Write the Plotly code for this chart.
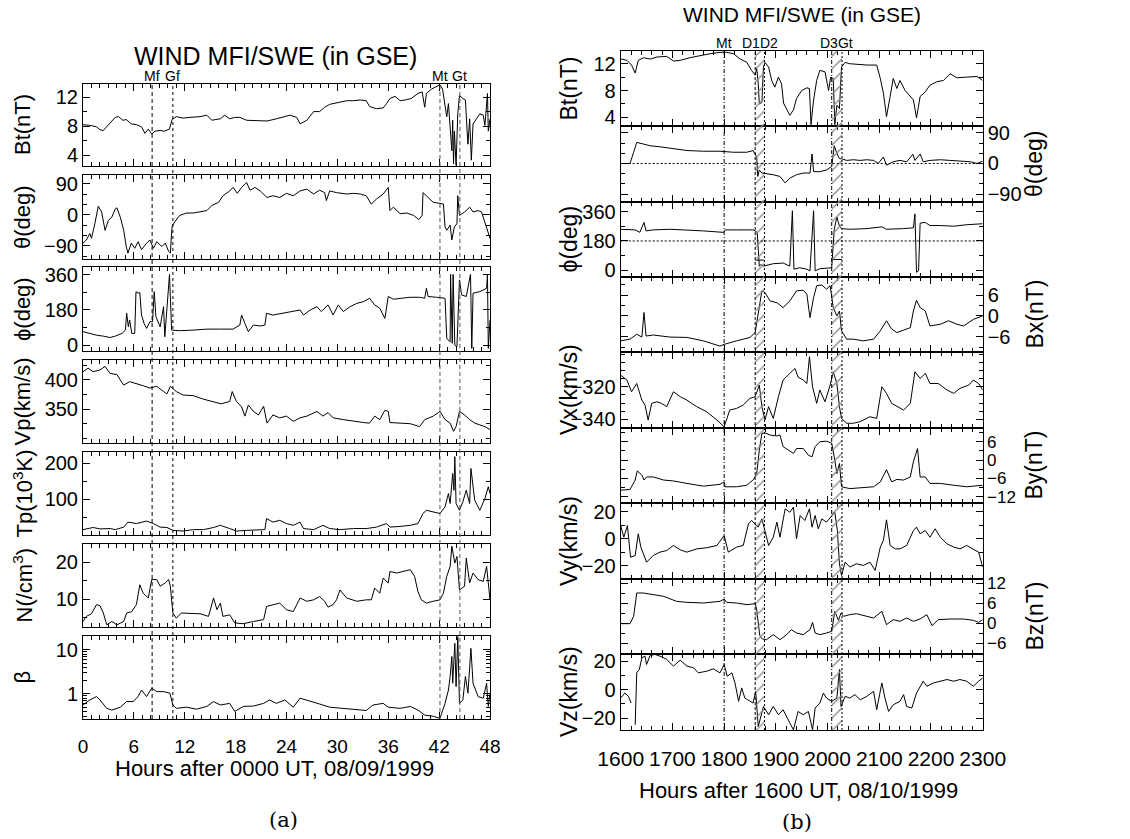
import plotly.graph_objects as go

W, H = 1130, 839

# ---------------- panel (a): hours after 0000 UT, 08/09/1999 ----------------
a_bt_t = [0, 0.2, 0.8, 1.6, 2.0, 2.4, 2.8, 3.4, 3.8, 4.2, 4.7, 5.1, 5.7, 6.3, 6.9, 7.3, 7.7, 8.1, 8.5, 9.1,
          9.6, 10.2, 10.5, 11.0, 11.8, 12.6, 13.8, 14.6, 15.2, 15.6, 16.2, 16.7, 17.3, 17.9, 18.5, 19.3, 20.5, 21.7, 22.8, 23.6,
          24.4, 25.2, 25.6, 26.4, 27.2, 27.9, 28.5, 29.1, 29.9, 31.1, 31.9, 32.7, 33.4, 33.8, 34.6, 35.4, 35.8, 36.2, 36.8, 37.4,
          38.0, 38.7, 39.5, 40.0, 40.3, 40.5, 41.1, 41.7, 42.1, 42.4, 42.7, 42.9, 43.1, 43.3, 43.5, 43.6, 43.7, 43.8, 44.0, 44.2,
          44.4, 44.8, 45.1, 45.3, 45.4, 45.6, 45.8, 46.0, 46.4, 46.8, 47.2, 47.4, 47.7, 47.8, 48.0]
a_bt = [8.2, 8.2, 8.1, 7.9, 7.5, 7.4, 7.9, 8.8, 9.2, 9.3, 8.8, 8.9, 8.3, 8.2, 7.9, 7.0, 7.6, 6.9, 7.3, 7.4,
        7.3, 7.6, 8.9, 9.3, 9.1, 9.2, 9.3, 9.5, 8.8, 8.9, 9.0, 9.5, 9.0, 9.2, 9.2, 8.8, 8.7, 8.7, 9.0, 9.2,
        9.5, 9.2, 8.3, 8.8, 10.0, 10.0, 10.6, 11.0, 11.2, 11.5, 11.5, 11.6, 11.5, 10.7, 10.4, 10.5, 11.1, 11.8, 12.1, 11.5,
        11.6, 11.8, 12.5, 12.7, 10.6, 12.5, 13.1, 13.5, 13.7, 13.1, 10.6, 9.3, 11.1, 7.3, 4.6, 8.8, 2.8, 7.3, 2.6, 9.7,
        12.2, 11.8, 11.6, 7.3, 5.5, 9.0, 3.3, 8.3, 9.0, 9.7, 9.5, 8.1, 12.5, 7.3, 9.0]

a_th_t = [0, 0.4, 0.8, 1.0, 1.4, 1.8, 2.2, 2.6, 3.0, 3.4, 3.8, 4.0, 4.4, 4.8, 5.1, 5.3, 5.7, 6.1, 6.5, 6.9,
          7.5, 7.9, 8.3, 8.7, 9.3, 9.7, 10.1, 10.3, 10.5, 10.8, 11.4, 12.2, 13.0, 13.8, 14.6, 15.2, 16.0, 16.5, 17.3, 17.7,
          18.2, 18.7, 19.3, 19.7, 20.3, 20.9, 21.7, 22.4, 23.2, 24.0, 24.8, 25.6, 26.4, 27.2, 27.9, 28.5, 28.7, 29.1, 29.9, 31.1,
          31.9, 32.7, 33.4, 34.0, 34.6, 35.4, 36.0, 36.2, 36.6, 37.4, 38.2, 39.0, 39.6, 40.0, 40.1, 40.7, 41.3, 42.1, 42.5, 42.7,
          42.9, 43.3, 43.5, 43.8, 44.1, 44.2, 44.4, 45.0, 45.6, 46.0, 46.6, 47.0, 47.4, 48.0]
a_th = [-82, -73, -54, -68, -26, 25, 8, -45, -16, -7, 17, 20, -7, -45, -92, -111, -82, -97, -78, -101,
        -82, -73, -97, -78, -92, -82, -106, -111, -35, -21, -2, 5, 5, 8, 12, 27, 36, 55, 69, 79,
        62, 79, 93, 71, 79, 69, 50, 55, 50, 62, 55, 69, 74, 60, 71, 64, 41, 69, 64, 60,
        62, 60, 55, 31, 45, 60, 79, 12, 22, 3, 5, -2, -14, -2, 64, 50, 36, 33, 31, -35,
        -45, -30, -73, -35, -26, 55, -2, 8, 22, 8, 12, 8, -21, -68]

a_ph_t = [0.0, 0.8, 1.6, 2.4, 3.2, 3.8, 4.6, 5.0, 5.15, 5.35, 5.5, 5.75, 6.1, 6.25, 6.5, 6.7, 6.9, 7.2, 7.5, 7.9,
          8.2, 8.4, 8.6, 9.1, 9.5, 9.65, 9.85, 10.2, 10.45, 11.4, 13.0, 14.6, 16.2, 17.7, 18.5, 18.7, 19.1, 19.5, 20.1, 20.9,
          21.45, 21.65, 22.4, 23.6, 24.8, 25.6, 26.0, 26.8, 27.6, 28.1, 28.9, 29.5, 30.1, 30.7, 31.5, 32.3, 33.1, 33.8, 34.4, 35.0,
          35.6, 36.0, 36.6, 37.4, 38.55, 39.7, 40.3, 40.5, 40.7, 41.7, 42.7, 42.9, 43.3, 43.35, 43.55, 43.65, 43.85, 44.1, 44.4, 44.65,
          45.2, 45.7, 45.85, 46.0, 46.8, 47.6, 47.7, 47.8, 48.0]
a_ph = [69, 60, 51, 46, 39, 46, 60, 77, 163, 94, 129, 60, 60, 274, 266, 269, 154, 111, 86, 120,
        120, 274, 146, 94, 197, 43, 180, 362, 77, 74, 77, 82, 82, 82, 103, 154, 111, 69, 103, 98,
        103, 163, 154, 163, 172, 180, 154, 180, 197, 172, 206, 154, 206, 172, 197, 214, 223, 240, 206, 189,
        137, 249, 235, 240, 245, 245, 240, 291, 249, 245, 240, 34, 17, 362, 9, 362, 0, -9, 334, 257,
        249, 362, -17, 266, 274, 291, 362, -17, 129]

a_vp_t = [0.0, 0.6, 1.2, 2.0, 2.6, 3.2, 4.0, 4.8, 5.5, 6.3, 7.1, 7.9, 8.7, 9.5, 9.9, 10.3, 11.0, 11.8, 13.0, 14.2,
          15.4, 16.3, 17.3, 17.6, 18.1, 18.7, 19.1, 19.5, 20.1, 20.7, 21.3, 21.7, 22.4, 23.2, 24.0, 24.8, 25.6, 26.4, 27.6, 28.3,
          28.9, 29.5, 30.7, 31.9, 33.1, 33.8, 34.4, 35.0, 35.6, 36.0, 36.2, 37.4, 38.6, 39.7, 40.3, 41.3, 42.1, 42.7, 43.3, 43.7,
          44.0, 44.4, 45.0, 45.6, 46.2, 46.8, 47.4, 48.0]
a_vp = [414, 420, 414, 417, 423, 411, 409, 391, 397, 394, 390, 386, 389, 380, 376, 389, 380, 374, 373, 367,
        363, 359, 363, 380, 363, 354, 338, 357, 346, 340, 355, 326, 340, 335, 338, 329, 335, 338, 346, 338,
        344, 335, 332, 329, 327, 326, 338, 332, 348, 346, 327, 326, 325, 320, 332, 338, 346, 332, 326, 312,
        320, 346, 340, 332, 326, 323, 320, 315]

a_tp_t = [0.0, 1.2, 2.0, 3.2, 3.8, 4.8, 5.3, 6.3, 7.5, 8.3, 9.1, 9.9, 10.6, 11.8, 13.0, 14.2, 15.4, 16.2, 17.3, 18.1,
          19.3, 20.5, 21.45, 21.65, 22.4, 23.2, 24.0, 24.8, 25.6, 26.0, 27.2, 28.3, 29.1, 30.3, 31.9, 33.4, 34.6, 35.8, 36.2, 37.4,
          38.6, 39.5, 40.1, 40.5, 41.3, 42.1, 42.7, 43.1, 43.3, 43.6, 43.75, 43.85, 44.0, 44.4, 44.8, 45.2, 45.6, 45.75, 46.2, 46.8,
          47.4, 47.8, 48.0]
a_tp = [15, 21, 17, 18, 15, 22, 36, 32, 39, 32, 22, 21, 13, 11, 15, 15, 21, 27, 18, 11,
        13, 15, 15, 46, 36, 41, 32, 27, 36, 18, 15, 27, 18, 15, 18, 18, 22, 32, 22, 24,
        27, 32, 60, 69, 64, 60, 79, 116, 88, 172, 125, 219, 88, 69, 93, 125, 88, 186, 97, 69,
        102, 135, 116]

a_n_t = [0.0, 0.4, 1.0, 1.6, 2.0, 2.4, 2.8, 3.4, 4.0, 4.8, 5.15, 5.75, 6.3, 6.7, 7.1, 7.7, 8.1, 8.7, 9.1, 9.7,
         10.1, 10.3, 10.6, 11.0, 11.6, 12.6, 13.8, 14.8, 15.4, 15.8, 16.2, 16.5, 17.3, 17.9, 18.9, 20.1, 21.3, 21.65, 22.4, 23.2,
         24.0, 24.8, 25.6, 26.4, 27.2, 27.9, 28.5, 28.9, 29.5, 29.9, 30.3, 31.1, 32.3, 33.4, 34.0, 34.4, 35.0, 35.4, 36.0, 36.2,
         37.0, 37.8, 38.6, 39.1, 39.5, 39.9, 40.5, 41.3, 42.1, 42.5, 42.9, 43.3, 43.5, 43.85, 44.1, 44.4, 45.0, 45.2, 45.6, 46.0,
         46.6, 47.2, 47.6, 48.0]
a_n = [3.9, 5.3, 6.0, 8.5, 8.2, 6.2, 3.0, 3.9, 3.0, 3.9, 6.2, 6.6, 8.5, 13.9, 11.6, 10.3, 15.3, 15.3, 13.5, 14.4,
       15.3, 13.5, 6.2, 4.8, 6.2, 6.2, 6.0, 5.3, 10.3, 7.1, 8.9, 5.3, 5.7, 3.5, 3.3, 3.9, 4.4, 8.0, 8.5, 8.9,
       7.1, 6.6, 10.3, 9.4, 9.8, 10.7, 9.4, 7.8, 8.5, 9.8, 12.5, 10.3, 9.4, 9.8, 9.8, 13.0, 11.6, 15.7, 14.4, 17.5,
       17.1, 17.5, 18.0, 16.2, 12.1, 9.8, 8.9, 9.4, 9.8, 11.6, 16.2, 18.9, 24.4, 19.8, 21.6, 12.5, 13.5, 21.2, 14.4, 17.1,
       15.3, 14.8, 18.9, 9.8]

a_beta_t = [0.0, 0.8, 1.6, 2.0, 2.8, 3.4, 4.4, 5.15, 5.9, 6.5, 6.9, 7.5, 8.1, 8.7, 9.5, 10.25, 10.6, 11.0, 12.2, 13.4,
            14.6, 15.4, 16.2, 17.3, 17.9, 18.9, 20.1, 21.3, 22.0, 22.8, 23.8, 24.8, 25.6, 26.8, 27.9, 29.1, 30.7, 32.3, 33.4, 34.2,
            35.4, 36.0, 37.4, 38.6, 39.5, 40.3, 41.3, 42.1, 42.7, 43.1, 43.3, 43.5, 43.6, 43.85, 44.0, 44.2, 44.4, 44.8, 45.1, 45.4,
            45.75, 46.0, 46.6, 47.2, 47.6, 47.8, 48.0]
a_beta = [0.56, 0.73, 0.87, 0.73, 0.47, 0.43, 0.50, 0.67, 0.67, 0.87, 1.23, 0.87, 1.35, 1.13, 1.13, 1.04, 0.56, 0.47, 0.50, 0.45,
          0.52, 0.67, 0.56, 0.61, 0.40, 0.52, 0.53, 0.61, 0.73, 0.61, 0.73, 0.50, 0.80, 0.67, 0.59, 0.50, 0.47, 0.43, 0.42, 0.56,
          0.61, 0.50, 0.47, 0.52, 0.43, 0.33, 0.31, 0.28, 0.61, 1.23, 2.5, 7.1, 1.75, 14.2, 1.47, 20, 0.61, 0.73, 2.5, 1.04,
          10.9, 1.75, 0.87, 0.80, 1.75, 0.52, 1.04]

a_event_names = ["Mf", "Gf", "Mt", "Gt"]
a_event_t = [8.15, 10.6, 42.1, 44.45]
a_xticks = [0, 6, 12, 18, 24, 30, 36, 42, 48]

# ---------------- panel (b): time 1600-2300 UT, 08/10/1999 ----------------
b_bt_t = [1600, 1602, 1612, 1621, 1628, 1634, 1644, 1657, 1670, 1689, 1702, 1715, 1734, 1753, 1773, 1792, 1805, 1818, 1831, 1844,
          1853, 1860, 1863, 1866, 1868, 1873, 1876, 1879, 1886, 1892, 1898, 1905, 1911, 1915, 1921, 1927, 1934, 1940, 1950, 1960,
          1965, 1968, 1973, 1979, 1985, 1995, 2002, 2006, 2011, 2014, 2018, 2023, 2027, 2034, 2043, 2056, 2076, 2095, 2102, 2108,
          2114, 2121, 2127, 2134, 2140, 2150, 2160, 2166, 2172, 2179, 2189, 2198, 2211, 2224, 2237, 2250, 2269, 2289, 2300]
b_bt = [12.6, 12.7, 12.5, 11.8, 10.6, 12.5, 12.9, 12.7, 13.0, 13.1, 12.4, 12.5, 12.9, 13.2, 13.5, 13.7, 13.7, 13.5, 12.7, 12.2,
        11.0, 10.3, 11.3, 9.0, 6.0, 6.2, 11.5, 12.2, 11.5, 9.5, 8.5, 10.0, 9.0, 6.1, 5.1, 4.3, 5.1, 6.8, 8.0, 8.4,
        8.3, 2.9, 6.6, 9.5, 11.0, 10.8, 8.0, 10.0, 9.8, 2.9, 5.8, 5.3, 11.5, 12.2, 12.0, 11.9, 11.8, 11.8, 9.8, 7.6,
        4.1, 7.1, 9.8, 8.3, 9.5, 8.0, 7.1, 6.6, 3.9, 7.1, 7.8, 8.8, 9.3, 9.5, 10.5, 9.9, 10.0, 10.1, 9.5]

b_th_t = [1600, 1618, 1625, 1631, 1644, 1657, 1676, 1702, 1728, 1760, 1792, 1818, 1844, 1856, 1863, 1865, 1868, 1873, 1882, 1895,
          1908, 1918, 1927, 1940, 1953, 1966, 1970, 1973, 1985, 1998, 2008, 2013, 2018, 2023, 2027, 2037, 2050, 2063, 2076, 2089,
          2098, 2108, 2114, 2127, 2140, 2153, 2165, 2169, 2179, 2185, 2198, 2218, 2237, 2256, 2276, 2289, 2300]
b_th = [0, 0, 33, 62, 57, 52, 49, 43, 38, 36, 36, 33, 33, 38, 19, -38, -19, -28, -30, -33,
        -38, -57, -43, -33, -28, -28, 28, -24, -24, -19, -9, 52, 30, 14, 14, 9, 11, 9, 11, 9,
        0, 19, -5, 5, 9, 5, 27, 9, 28, 5, 9, 11, 9, 8, 5, 0, 7]

b_ph_t = [1600, 1628, 1637, 1645, 1649, 1663, 1695, 1728, 1760, 1799, 1802, 1824, 1857, 1864, 1868, 1871, 1876, 1895, 1914, 1927,
          1932, 1935, 1946, 1960, 1966, 1973, 1976, 1985, 1998, 2008, 2013, 2018, 2023, 2027, 2043, 2076, 2105, 2114, 2147, 2166,
          2169, 2172, 2176, 2179, 2189, 2198, 2218, 2244, 2269, 2300]
b_ph = [252, 248, 233, 294, 242, 248, 252, 248, 242, 233, 248, 248, 248, 233, 25, 34, 25, 40, 44, 25,
        366, 6, 15, 6, -4, 366, -4, 9, 15, 15, 252, 328, 271, 256, 252, 256, 267, 252, 256, 261,
        347, -13, -4, 290, 294, 275, 275, 271, 280, 286]
# short level marks of phi drawn across the two shaded intervals
b_ph_interval_level = [62, 66]

b_bx_t = [1600, 1618, 1631, 1641, 1645, 1649, 1663, 1695, 1728, 1760, 1792, 1800, 1824, 1850, 1860, 1866, 1873, 1879, 1889, 1902,
          1914, 1927, 1940, 1953, 1960, 1966, 1973, 1979, 1989, 1998, 2005, 2011, 2018, 2023, 2027, 2037, 2050, 2069, 2089, 2102,
          2114, 2124, 2134, 2147, 2160, 2166, 2172, 2179, 2189, 2198, 2218, 2234, 2250, 2263, 2282, 2300]
b_bx = [-7.2, -6.7, -5.3, -6.1, 1.0, -5.8, -5.5, -6.1, -6.2, -7.2, -8.7, -8.2, -7.2, -6.2, -4.8, 1.4, 7.2, 6.7, 4.3, 3.8,
        2.4, 4.3, 7.2, 7.4, 6.2, -0.5, 5.3, 8.7, 8.9, 7.7, 8.7, 2.4, 0, 1.4, -4.3, -6.7, -6.7, -7.2, -6.7, -4.3,
        -1.4, -3.8, -4.8, -4.1, -3.4, 1.4, 4.5, 2.4, 1.4, -2.9, -2.4, -1.4, -2.4, -2.9, -1.0, 0]

b_vx_t = [1600, 1612, 1621, 1631, 1641, 1647, 1653, 1660, 1670, 1679, 1689, 1702, 1715, 1728, 1747, 1766, 1786, 1800, 1811, 1824,
          1837, 1850, 1860, 1868, 1873, 1879, 1886, 1895, 1905, 1914, 1927, 1937, 1943, 1953, 1960, 1965, 1971, 1979, 1985, 1995,
          2005, 2011, 2018, 2023, 2027, 2037, 2050, 2063, 2082, 2095, 2105, 2114, 2124, 2134, 2147, 2160, 2169, 2179, 2189, 2198,
          2214, 2231, 2244, 2256, 2273, 2282, 2292, 2300]
b_vx = [-312.9, -315.9, -323.1, -318, -328.2, -331.2, -340.4, -330.2, -329.2, -330.2, -332.2, -323.1, -326.1, -328.2, -332.2, -335.3, -340.4, -344.5, -334.3, -333.3,
        -331.2, -327.1, -326.1, -319, -332.2, -340.4, -332.2, -339.4, -326.1, -315.9, -311.8, -308.8, -314.1, -315.9, -318, -301.6, -320, -330.2, -322, -329.2,
        -319, -310.8, -318, -332.2, -339.4, -342.4, -342.4, -341.4, -338.4, -339.4, -320, -324.1, -330.2, -332.2, -334.3, -330.2, -310.8, -314.9, -311.8, -318,
        -318, -322, -324.1, -321, -319, -315.9, -318, -322]

b_by_t = [1600, 1618, 1628, 1632, 1641, 1645, 1650, 1663, 1683, 1702, 1728, 1760, 1792, 1800, 1802, 1824, 1844, 1857, 1863, 1868,
          1873, 1879, 1889, 1902, 1908, 1914, 1924, 1934, 1940, 1953, 1963, 1970, 1976, 1985, 1998, 2008, 2013, 2018, 2023, 2027,
          2043, 2069, 2089, 2102, 2114, 2124, 2134, 2147, 2160, 2166, 2174, 2179, 2189, 2198, 2218, 2244, 2269, 2300]
b_by = [-9.8, -9.6, -6.5, -3.5, -4.9, -6.5, -5.5, -5.5, -6.5, -6.8, -7.6, -8.5, -7.9, -7.1, -8.7, -8.7, -8.2, -6.3, -4.4, 3.3,
        8.7, 8.9, 8.2, 7.9, 8.2, 4.4, 3.3, 2.2, 3.8, 3.8, 1.6, 1.1, 4.4, 6.0, 6.2, 5.5, 1.1, -4.4, -1.1, -8.7,
        -9.3, -8.9, -8.7, -7.1, -3.1, -7.1, -6.3, -6.5, -5.5, -0.5, 3.8, -5.5, -5.5, -7.6, -7.6, -8.2, -8.7, -8.2]

b_vy_t = [1600, 1606, 1613, 1619, 1628, 1634, 1639, 1650, 1663, 1676, 1689, 1702, 1715, 1728, 1747, 1766, 1786, 1800, 1808, 1824,
          1837, 1847, 1853, 1860, 1866, 1873, 1879, 1886, 1895, 1902, 1908, 1918, 1927, 1934, 1940, 1947, 1956, 1965, 1970, 1976,
          1982, 1989, 1998, 2008, 2014, 2019, 2023, 2027, 2034, 2043, 2056, 2069, 2082, 2092, 2102, 2108, 2114, 2121, 2131, 2140,
          2153, 2166, 2172, 2179, 2189, 2198, 2208, 2218, 2231, 2244, 2256, 2269, 2282, 2292, 2300]
b_vy = [9.8, 1.2, 9.8, -13.5, -12.3, 3.7, -6.1, -17.2, -12.3, -9.8, -8.6, -4.9, -8.1, -9.8, -7.4, -6.6, -4.9, 2.5, -9.8, -6.1,
        -4.9, 11.0, 13.5, 11.0, 8.6, 14.7, 6.1, -4.9, 1.2, 12.3, 1.2, 22.1, 19.6, 23.3, 0, 17.2, 13.5, 22.1, 8.6, 17.2,
        7.4, 14.7, 12.3, 17.2, 19.6, 6.1, -18.4, -27, -17.2, -20.8, -18.4, -19.6, -17.2, -23.3, -6.1, -1.2, 14.0, -4.9, -7.4, -7.4,
        -4.9, 6.1, 8.6, 3.7, 6.1, 1.2, 7.4, 1.2, -3.7, -6.1, -7.4, -4.9, -7.4, -9.8, -20.8]

b_bz_t = [1600, 1618, 1625, 1631, 1644, 1663, 1683, 1708, 1728, 1760, 1792, 1800, 1805, 1824, 1844, 1860, 1863, 1866, 1869, 1874,
          1882, 1895, 1908, 1921, 1930, 1940, 1953, 1966, 1971, 1976, 1985, 1998, 2008, 2014, 2021, 2026, 2031, 2043, 2056, 2076,
          2089, 2105, 2114, 2127, 2140, 2153, 2166, 2179, 2192, 2202, 2214, 2237, 2263, 2282, 2292, 2300]
b_bz = [-0.2, -0.2, 2, 9.0, 9.0, 8.5, 8.0, 6.5, 6.2, 6.0, 6.5, 7.2, 6.2, 6.0, 5.5, 5.8, 4, 0, -3.8, -4.8,
        -5.0, -3.5, -5.0, -3.5, -2.0, -3.0, -3.5, -2.0, 0.2, -3.0, -3.5, -3.0, -2.5, 3.5, 0.8, 3.0, 2.0, 2.5, 2.8, 2.0,
        1.5, 3.5, -0.5, 1.0, 0.5, 1.5, 0.5, 1.2, 2.5, -0.8, 1.0, 1.2, 1.2, 0.8, 0.2, 1.0]

b_vz_t = [1600, 1608, 1615, 1620, None, 1628, 1631, 1636, 1641, 1647, 1650, 1657, 1666, 1676, 1689, 1702, 1715, 1728, 1741, 1750,
          1766, 1779, 1792, 1800, 1806, 1815, 1821, 1828, 1834, 1840, 1850, 1856, 1861, 1866, 1876, 1886, 1895, 1905, 1914, 1924,
          1934, 1943, 1953, 1963, 1971, 1976, 1985, 1992, 1998, 2008, 2018, 2023, 2026, 2034, 2043, 2053, 2063, 2076, 2089, 2095,
          2105, 2111, 2118, 2127, 2140, 2147, 2153, 2163, 2172, 2185, 2192, 2205, 2218, 2231, 2244, 2256, 2269, 2282, 2292, 2300]
b_vz = [-5.9, -2.4, -4.7, -9.4, None, -24.7, 11.8, 14.1, 22.4, 23.5, 17.6, 24.0, 24.7, 23.5, 21.2, 16.5, 20.7, 16.5, 15.3, 11.8,
        12.9, 14.6, 11.8, 17.6, 9.4, 11.8, 4.7, -8.2, 1.2, -5.9, -8.2, -9.4, -1.2, -25.9, -11.8, -17.6, -11.8, -17.6, -14.1, -21.2,
        -28.2, -15.3, -17.6, -15.3, -28.2, -12.9, -9.4, -2.4, -5.9, -8.2, -5.9, 14.1, -11.8, -4.7, -5.9, -3.5, -7.1, -4.7, -1.2, -14.1,
        4.7, -5.9, -15.3, -10.6, -8.2, -3.5, -11.8, -12.9, -2.4, 5.9, 2.4, 4.7, 5.9, 7.1, 5.9, 7.1, 5.9, 2.4, 5.9, 8.2]

b_event_names = ["Mt", "D1", "D2", "D3", "Gt"]
b_event_t = [1800, 1860, 1878, 2008, 2028]
b_xticks = [1600, 1700, 1800, 1900, 2000, 2100, 2200, 2300]

# ---------------- helpers ----------------
FONT = "Liberation Sans, Arial, Helvetica, sans-serif"
SERIF = "DejaVu Serif, Liberation Serif, serif"


def fx(p):
    return p / W


def fy(p):
    return 1 - p / H


axis_common = dict(showline=True, linecolor="black", linewidth=1, mirror="allticks",
                   ticks="inside", tickcolor="black", tickwidth=1, showgrid=False,
                   zeroline=False, automargin=False,
                   tickfont=dict(family=FONT, size=20, color="black"))

fig = go.Figure()
layout = {}
annotations = []
shapes = []

# ----- panel (a) rows -----
a_rows = [
    (a_bt_t, a_bt, [2.5, 13.8], [4, 8, 12], 2, "Bt(nT)", False),
    (a_th_t, a_th, [-128, 115], [-90, 0, 90], 30, "θ(deg)", False),
    (a_ph_t, a_ph, [-30, 400], [0, 180, 360], 90, "ϕ(deg)", False),
    (a_vp_t, a_vp, [292, 434], [350, 400], 25, "Vp(km/s)", False),
    (a_tp_t, a_tp, [0, 232], [100, 200], 50, "Tp(10<sup>3</sup>K)", False),
    (a_n_t, a_n, [2.4, 25], [10, 20], 5, "N(/cm<sup>3</sup>)", False),
    (a_beta_t, a_beta, [-0.57, 1.318], [1, 10], None, "β", True),
]
a_tops = [84, 175, 267, 360, 452, 544, 636]
a_bots = [166, 259, 351, 443, 535, 627, 719]
A_X0, A_X1 = 83, 490

for i, (t, v, yr, tv, mdt, title, islog) in enumerate(a_rows):
    assert len(t) == len(v), (title, len(t), len(v))
    n = i + 1
    xs = "x" if n == 1 else f"x{n}"
    ys = "y" if n == 1 else f"y{n}"
    xk = "xaxis" if n == 1 else f"xaxis{n}"
    yk = "yaxis" if n == 1 else f"yaxis{n}"
    fig.add_trace(go.Scatter(x=t, y=v, mode="lines", line=dict(color="black", width=1),
                             xaxis=xs, yaxis=ys, showlegend=False, hoverinfo="skip"))
    layout[xk] = dict(axis_common, domain=[fx(A_X0), fx(A_X1)], range=[0, 48], anchor=ys,
                      tickmode="array", tickvals=a_xticks, ticklen=7,
                      minor=dict(ticks="inside", ticklen=4, tickmode="linear", tick0=0, dtick=1, tickcolor="black"),
                      showticklabels=(i == len(a_rows) - 1), ticklabelstandoff=10,
                      tickfont=dict(family=FONT, size=19, color="black"))
    ya = dict(axis_common, domain=[fy(a_bots[i]), fy(a_tops[i])], range=yr, anchor=xs,
              tickmode="array", tickvals=tv, ticklen=7, side="left")
    if islog:
        ya["type"] = "log"
        ya["ticktext"] = ["1", "10"]
        ya["minor"] = dict(ticks="inside", ticklen=4, tickmode="array",
                           tickvals=[0.3, 0.4, 0.5, 0.6, 0.7, 0.8, 0.9, 2, 3, 4, 5, 6, 7, 8, 9, 20], tickcolor="black")
    else:
        ya["minor"] = dict(ticks="inside", ticklen=4, tickmode="linear", tick0=0, dtick=mdt, tickcolor="black")
    layout[yk] = ya
    annotations.append(dict(text=title, x=fx(22), y=fy((a_tops[i] + a_bots[i]) / 2), xref="paper", yref="paper",
                            textangle=-90, showarrow=False, font=dict(family=FONT, size=22, color="black"),
                            xanchor="center", yanchor="middle"))

# event lines (a)
a_styles = [("black", "4px,3px"), ("black", "3px,3px"), ("#555555", "4px,3px"), ("#555555", "4px,3px")]
for name, tt, (col, dash) in zip(a_event_names, a_event_t, a_styles):
    shapes.append(dict(type="line", xref="x", yref="paper", x0=tt, x1=tt, y0=fy(a_bots[-1]), y1=fy(a_tops[0]),
                       line=dict(color=col, width=1, dash=dash), layer="above"))
    annotations.append(dict(text=name, x=tt, y=fy(76), xref="x", yref="paper", showarrow=False,
                            font=dict(family=FONT, size=14, color="black"), xanchor="center", yanchor="middle"))

# ----- panel (b) rows -----
b_rows = [
    (b_bt_t, b_bt, [2.7, 13.9], [4, 8, 12], 2, "Bt(nT)", "left"),
    (b_th_t, b_th, [-113, 110], [-90, 0, 90], 30, "θ(deg)", "right"),
    (b_ph_t, b_ph, [-42, 420], [0, 180, 360], 90, "ϕ(deg)", "left"),
    (b_bx_t, b_bx, [-10.4, 11.2], [-6, 0, 6], 3, "Bx(nT)", "right"),
    (b_vx_t, b_vx, [-345.3, -298.7], [-340, -320], 5, "Vx(km/s)", "left"),
    (b_by_t, b_by, [-14, 10.5], [-12, -6, 0, 6], 3, "By(nT)", "right"),
    (b_vy_t, b_vy, [-29.6, 26.4], [-20, 0, 20], 10, "Vy(km/s)", "left"),
    (b_bz_t, b_bz, [-9.3, 13.2], [-6, 0, 6, 12], 3, "Bz(nT)", "right"),
    (b_vz_t, b_vz, [-28.3, 25], [-20, 0, 20], 10, "Vz(km/s)", "left"),
]
b_edges = [51, 126, 202, 277, 352, 428, 503, 579, 654, 730]
B_X0, B_X1 = 620.7, 982.7
off = len(a_rows)

for i, (t, v, yr, tv, mdt, title, side) in enumerate(b_rows):
    assert len(t) == len(v), (title, len(t), len(v))
    n = off + i + 1
    xs, ys = f"x{n}", f"y{n}"
    fig.add_trace(go.Scatter(x=t, y=v, mode="lines", line=dict(color="black", width=1),
                             xaxis=xs, yaxis=ys, showlegend=False, hoverinfo="skip", connectgaps=False))
    layout[f"xaxis{n}"] = dict(axis_common, domain=[fx(B_X0), fx(B_X1)], range=[1600, 2300], anchor=ys,
                               tickmode="array", tickvals=b_xticks, ticklen=7,
                               minor=dict(ticks="inside", ticklen=4, tickmode="linear", tick0=1600, dtick=20, tickcolor="black"),
                               showticklabels=(i == len(b_rows) - 1), ticklabelstandoff=10,
                               tickfont=dict(family=FONT, size=21, color="black"))
    tf = dict(family=FONT, size=17 if side == "right" and len(tv) > 3 else 20, color="black")
    layout[f"yaxis{n}"] = dict(axis_common, domain=[fy(b_edges[i + 1]), fy(b_edges[i])], range=yr, anchor=xs,
                               tickmode="array", tickvals=tv, ticklen=7, side=side, tickfont=tf,
                               minor=dict(ticks="inside", ticklen=4, tickmode="linear", tick0=0, dtick=mdt, tickcolor="black"))
    tx = 569 if side == "left" else 1034
    annotations.append(dict(text=title, x=fx(tx), y=fy((b_edges[i] + b_edges[i + 1]) / 2), xref="paper", yref="paper",
                            textangle=-90, showarrow=False, font=dict(family=FONT, size=23, color="black"),
                            xanchor="center", yanchor="middle"))

# phi level marks across shaded intervals
ph_axis = off + 3
for (t0, t1), lev in zip([(b_event_t[1], b_event_t[2]), (b_event_t[3], b_event_t[4])], b_ph_interval_level):
    fig.add_trace(go.Scatter(x=[t0, t1], y=[lev, lev], mode="lines", line=dict(color="black", width=1),
                             xaxis=f"x{ph_axis}", yaxis=f"y{ph_axis}", showlegend=False, hoverinfo="skip"))

# dotted reference lines (theta=0, phi=180)
for idx, yv in [(off + 2, 0), (off + 3, 180)]:
    shapes.append(dict(type="line", xref=f"x{idx} domain", yref=f"y{idx}", x0=0, x1=1, y0=yv, y1=yv,
                       line=dict(color="black", width=1, dash="2px,2px"), layer="above"))

# overlay axis for hatched intervals spanning all rows of panel (b)
hn = off + len(b_rows) + 1
layout[f"xaxis{hn}"] = dict(domain=[fx(B_X0), fx(B_X1)], range=[1600, 2300], visible=False,
                            anchor=f"y{hn}", automargin=False)
layout[f"yaxis{hn}"] = dict(domain=[fy(b_edges[-1]), fy(b_edges[0])], range=[0, 1], visible=False,
                            anchor=f"x{hn}", automargin=False)
iv0 = [b_event_t[1], b_event_t[3]]
iv1 = [b_event_t[2], b_event_t[4]]
fig.add_trace(go.Bar(x=[(a + b) / 2 for a, b in zip(iv0, iv1)], y=[1, 1], base=[0, 0],
                     width=[b - a for a, b in zip(iv0, iv1)],
                     marker=dict(color="rgba(0,0,0,0)", line=dict(width=0),
                                 pattern=dict(shape="/", fgcolor="#8a8a8a", bgcolor="rgba(0,0,0,0)",
                                              size=9, solidity=0.15, fillmode="replace")),
                     xaxis=f"x{hn}", yaxis=f"y{hn}", showlegend=False, hoverinfo="skip"))

b_styles = ["4px,2px,1px,2px", "3px,2px", "2px,2px", "4px,2px,1px,2px", "2px,2px"]
for tt, dash in zip(b_event_t, b_styles):
    shapes.append(dict(type="line", xref=f"x{off + 1}", yref="paper", x0=tt, x1=tt, y0=fy(b_edges[-1]), y1=fy(b_edges[0]),
                       line=dict(color="black", width=1, dash=dash), layer="above"))
b_labels = [("Mt", b_event_t[0]), ("D1D2", (b_event_t[1] + b_event_t[2]) / 2), ("D3Gt", (b_event_t[3] + b_event_t[4]) / 2)]
for txt, tt in b_labels:
    annotations.append(dict(text=txt, x=tt, y=fy(43), xref=f"x{off + 1}", yref="paper", showarrow=False,
                            font=dict(family=FONT, size=14, color="black"), xanchor="center", yanchor="middle"))

# titles and captions
for txt, x, y, size, fam in [
    ("WIND MFI/SWE (in GSE)", 275, 56, 25, FONT),
    ("WIND MFI/SWE (in GSE)", 802, 15, 21, FONT),
    ("Hours after 0000 UT, 08/09/1999", 274, 768, 22, FONT),
    ("Hours after 1600 UT, 08/10/1999", 798, 790, 22, FONT),
    ("(a)", 283, 820, 21, SERIF),
    ("(b)", 797, 822, 21, SERIF),
]:
    annotations.append(dict(text=txt, x=fx(x), y=fy(y), xref="paper", yref="paper", showarrow=False,
                            font=dict(family=fam, size=size, color="black"), xanchor="center", yanchor="middle"))

fig.update_layout(width=W, height=H, margin=dict(l=0, r=0, t=0, b=0, pad=0, autoexpand=False),
                  paper_bgcolor="white", plot_bgcolor="rgba(0,0,0,0)", showlegend=False,
                  annotations=annotations, shapes=shapes, barmode="overlay",
                  font=dict(family=FONT, color="black"), **layout)

fig.write_html("out.html")
